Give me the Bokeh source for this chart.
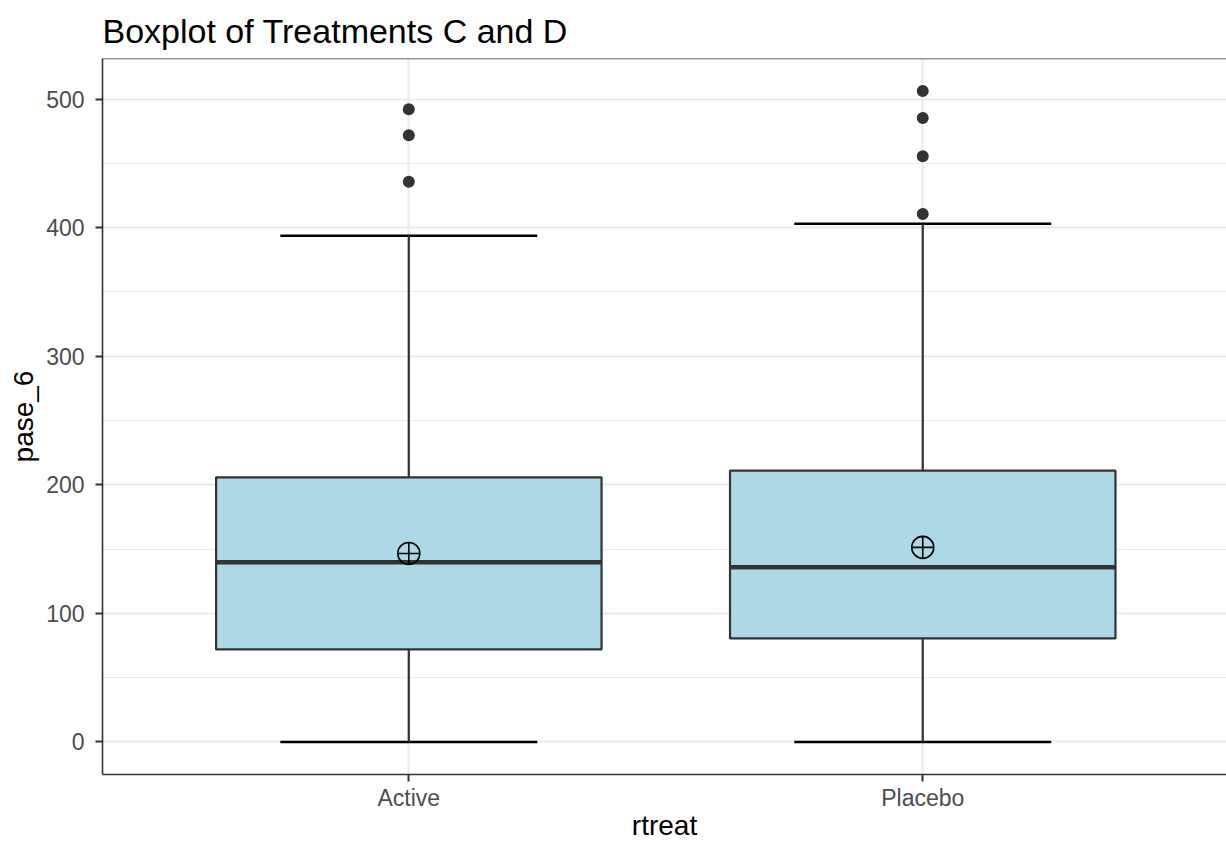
from bokeh.plotting import figure
from bokeh.models import FixedTicker, Range1d, Span, ColumnDataSource
from bokeh.embed import file_html
from bokeh.resources import INLINE

# ---- data ----
categories = ["Active", "Placebo"]
q1 = [72.0, 80.5]
median = [139.7, 135.9]
q3 = [205.8, 211.0]
whisker_low = [0.0, 0.0]
whisker_high = [393.7, 403.0]
means = [146.6, 151.3]
outliers = [[435.6, 471.8, 492.0], [410.6, 455.5, 485.3, 506.2]]
y_ticks = [0, 100, 200, 300, 400, 500]
y_minor = [50, 150, 250, 350, 450]

FONT = "Liberation Sans"
BOX_W = 0.75
CAP_W = 0.5

xs = [i + 1 for i in range(len(categories))]

p = figure(width=1226, height=843, output_backend="svg", toolbar_location=None,
           x_range=Range1d(0.404, 2.591), y_range=Range1d(-25.3, 531.5),
           min_border_left=102, min_border_right=0, min_border_top=58,
           min_border_bottom=69, title="Boxplot of Treatments C and D")
p.outline_line_color = None
p.background_fill_color = "white"

p.title.text_font = FONT
p.title.text_font_size = "34px"
p.title.text_font_style = "normal"
p.title.text_color = "black"
p.title.align = "left"
p.title.standoff = 18

# grids
p.ygrid.ticker = FixedTicker(ticks=y_ticks, minor_ticks=y_minor)
p.ygrid.grid_line_color = "#EBEBEB"
p.ygrid.grid_line_width = 2.2
p.ygrid.minor_grid_line_color = "#EBEBEB"
p.ygrid.minor_grid_line_width = 1.1
p.xgrid.ticker = FixedTicker(ticks=xs)
p.xgrid.grid_line_color = "#EBEBEB"
p.xgrid.grid_line_width = 2.2

# axes
for ax in (p.xaxis[0], p.yaxis[0]):
    ax.axis_line_color = "#333333"
    ax.axis_line_width = 1.6
    ax.major_tick_line_color = "#333333"
    ax.major_tick_line_width = 2
    ax.major_tick_out = 7
    ax.major_tick_in = 0
    ax.minor_tick_line_color = None
    ax.major_label_text_font = FONT
    ax.major_label_text_font_size = "23px"
    ax.major_label_text_color = "#4D4D4D"
    ax.axis_label_text_font = FONT
    ax.axis_label_text_font_size = "28px"
    ax.axis_label_text_font_style = "normal"
    ax.axis_label_text_color = "black"

p.yaxis.ticker = FixedTicker(ticks=y_ticks)
p.yaxis.major_label_standoff = 11
p.yaxis.axis_label = "pase_6"
p.yaxis.axis_label_standoff = 4
p.xaxis.ticker = FixedTicker(ticks=xs)
p.xaxis.major_label_overrides = {x: c for x, c in zip(xs, categories)}
p.xaxis.major_label_standoff = 3
p.xaxis.axis_label = "rtreat"
p.xaxis.axis_label_standoff = -4

# top border of panel
p.add_layout(Span(location=531.5, dimension="width", line_color="#333333", line_width=1.6))

# error-bar caps (black), drawn first
cap_src = ColumnDataSource(dict(
    x0=[x - CAP_W / 2 for x in xs] * 2, x1=[x + CAP_W / 2 for x in xs] * 2,
    y=whisker_low + whisker_high))
p.segment(x0="x0", x1="x1", y0="y", y1="y", source=cap_src, line_color="black", line_width=2.6)

# whiskers
p.segment(x0=xs, x1=xs, y0=q3, y1=whisker_high, line_color="#333333", line_width=2.2)
p.segment(x0=xs, x1=xs, y0=whisker_low, y1=q1, line_color="#333333", line_width=2.2)

# boxes
p.vbar(x=xs, width=BOX_W, bottom=q1, top=q3, fill_color="#ADD8E6",
       line_color="#333333", line_width=2.2)
# medians
p.segment(x0=[x - BOX_W / 2 for x in xs], x1=[x + BOX_W / 2 for x in xs],
          y0=median, y1=median, line_color="#333333", line_width=4.5)

# outliers
ox = [x for x, pts in zip(xs, outliers) for _ in pts]
oy = [v for pts in outliers for v in pts]
p.scatter(ox, oy, size=12, fill_color="#333333", line_color=None)

# means
p.scatter(xs, means, marker="circle_cross", size=22, fill_color=None,
          line_color="black", line_width=1.6)

open("out.html", "w").write(file_html(p, INLINE))
